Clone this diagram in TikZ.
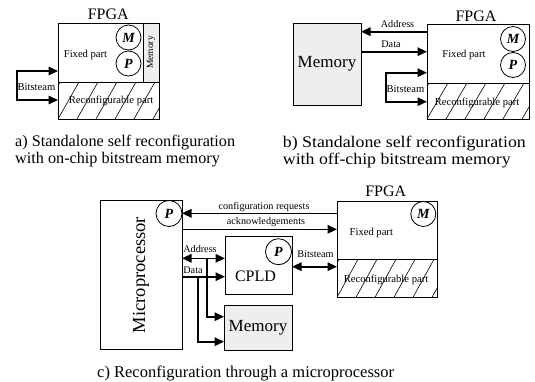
\documentclass[tikz,border=0pt]{standalone}
\usepackage{fontspec}
\usepackage{graphicx}
\setmainfont{Liberation Serif}
\usetikzlibrary{arrows.meta,calc}
\definecolor{memgray}{HTML}{EEEEEE}
\newcommand\hatchbox[4]{%
  \begin{scope}
    \clip (#1,#2) rectangle (#3,#4);
    \foreach \k in {0,...,7}{\draw[hatchln] ({#1+(\k-1)*19},#4) -- ++(21,{#2-#4});}
  \end{scope}}
\begin{document}
\begin{tikzpicture}[x=1pt,y=-1pt,
  blk/.style={draw, line width=0.8pt, inner sep=0pt, outer sep=0pt},
  circ/.style={draw, circle, fill=white, line width=0.8pt, minimum size=25pt, inner sep=0pt, font=\fontsize{14}{14}\selectfont\bfseries\itshape},
  lbl/.style={inner sep=0pt, anchor=base, font=\fontsize{10.2}{12}\selectfont},
  ptxt/.style={inner sep=0pt, anchor=base, font=\fontsize{10.6}{12}\selectfont},
  bigtxt/.style={inner sep=0pt, anchor=base, font=\fontsize{16}{18}\selectfont},
  capt/.style={inner sep=0pt, anchor=base west, align=left, font=\fontsize{16.2}{16.6}\selectfont},
  arr/.style={line width=1.6pt, -{Triangle[length=9.5pt,width=8.5pt]}},
  dbl/.style={line width=1.6pt, {Triangle[length=9.5pt,width=8.5pt]}-{Triangle[length=9.5pt,width=8.5pt]}},
  hatchln/.style={line width=0.6pt}]
\useasboundingbox (0,0) rectangle (535,381);

% ---------- a ----------
\node[blk, minimum width=101pt, minimum height=59pt] (afix) at (108.5,52.5) {};
\node[blk, minimum width=101pt, minimum height=37pt] (arec) at (108.5,100.5) {};
\hatchbox{58}{82}{159}{119}
\node[ptxt] (arect) at (111,103.7) {Reconfigurable part};
\node[blk, fill=memgray, minimum width=16pt, minimum height=59pt, font=\fontsize{9.5}{10}\selectfont] (amem) at (151,52.5) {\rotatebox{90}{Memory}};
\node[circ] (aM) at (128.5,37.5) {M};
\node[circ] (aP) at (128.5,63.5) {P};
\node[ptxt] (afixt) at (85.5,57) {Fixed part};
\node[bigtxt] (afpga) at (108.3,19.3) {FPGA};
\draw[dbl] (afix.west |- 0,71) -- (17,71) -- (17,100) -- (arec.west |- 0,100);
\node[ptxt] (abit) at (36.5,90.7) {Bitsteam};
\node[capt] (acap) at (15,163.3) {a) Standalone self reconfiguration\\with on-chip bitstream memory};

% ---------- b ----------
\node[blk, fill=memgray, minimum width=68pt, minimum height=82pt, font=\fontsize{17}{18}\selectfont] (bmem) at (327,64) {Memory};
\node[blk, minimum width=102pt, minimum height=59pt] (bfix) at (478,53.5) {};
\node[blk, minimum width=102pt, minimum height=36pt] (brec) at (478,101) {};
\hatchbox{427}{83}{529}{119}
\node[ptxt] (brect) at (477,105) {Reconfigurable part};
\node[circ] (bM) at (513,39) {M};
\node[circ] (bP) at (513,65) {P};
\node[ptxt] (bfixt) at (464,57.5) {Fixed part};
\node[bigtxt] (bfpga) at (476,21) {FPGA};
\draw[arr] (bfix.west |- 0,31.7) -- (bmem.east |- 0,31.7);
\node[lbl] (badr) at (397.5,27.3) {Address};
\draw[arr] (bmem.east |- 0,51.7) -- (bfix.west |- 0,51.7);
\node[lbl] (bdat) at (391,47.3) {Data};
\draw[dbl] (bfix.west |- 0,72.7) -- (386,72.7) -- (386,101.7) -- (brec.west |- 0,101.7);
\node[ptxt] (bbit) at (405.5,92) {Bitsteam};
\node[capt] (bcap) at (282.7,164) {\scalebox{1.1}[1]{\begin{tabular}[b]{@{}l@{}}b) Standalone self reconfiguration\\with off-chip bitstream memory\end{tabular}}};

% ---------- c ----------
\node[blk, minimum width=82pt, minimum height=149pt, font=\fontsize{18.5}{20}\selectfont] (mp) at (141,275) {\rotatebox{90}{Microprocessor}};
\node[circ, minimum size=26pt] (mpP) at (169,213.5) {P};
\node[blk, minimum width=100pt, minimum height=58.3pt] (cfix) at (387,230.15) {};
\node[blk, minimum width=100pt, minimum height=38pt] (crec) at (387,278.3) {};
\hatchbox{337}{259.3}{437}{297.3}
\node[ptxt] (crect) at (386,282) {Reconfigurable part};
\node[circ] (cM) at (423.3,214) {M};
\node[ptxt] (cfixt) at (371.3,235.7) {Fixed part};
\node[bigtxt] (cfpga) at (385.8,196.7) {FPGA};
\draw[arr] (cfix.west |- 0,213.3) -- (mp.east |- 0,213.3);
\node[lbl] (creq) at (264,209) {configuration requests};
\draw[arr] (mp.east |- 0,229.3) -- (cfix.west |- 0,229.3);
\node[lbl] (cack) at (266,224.5) {acknowledgements};
\node[blk, minimum width=67pt, minimum height=58pt] (cpld) at (258.5,265) {};
\node[bigtxt] (cpldt) at (255.5,281.7) {CPLD};
\node[circ, minimum size=26pt] (cpldP) at (278.5,251.7) {P};
\draw[dbl] (cpld.east |- 0,266.7) -- (crec.west |- 0,266.7);
\node[lbl] (cbit) at (315.5,257.7) {Bitsteam};
\draw[dbl] (mp.east |- 0,258.3) -- (cpld.west |- 0,258.3);
\node[lbl] (cadr) at (200,252.5) {Address};
\draw[arr] (mp.east |- 0,276.7) -- (cpld.west |- 0,276.7);
\node[lbl] (cdat) at (193,273.3) {Data};
\node[blk, fill=memgray, minimum width=68pt, minimum height=45pt, font=\fontsize{17}{18}\selectfont] (cmem) at (258,327.5) {Memory};
\coordinate (abr) at (206.7,258.3);
\coordinate (dbr) at (197.7,276.7);
\draw[arr] (abr) |- (cmem.west |- 0,316.7);
\draw[arr] (dbr) |- (cmem.west |- 0,341.7);
\node[capt, font=\fontsize{16.5}{17}\selectfont] (ccap) at (97,377.5) {c) Reconfiguration through a microprocessor};
\end{tikzpicture}
\end{document}
